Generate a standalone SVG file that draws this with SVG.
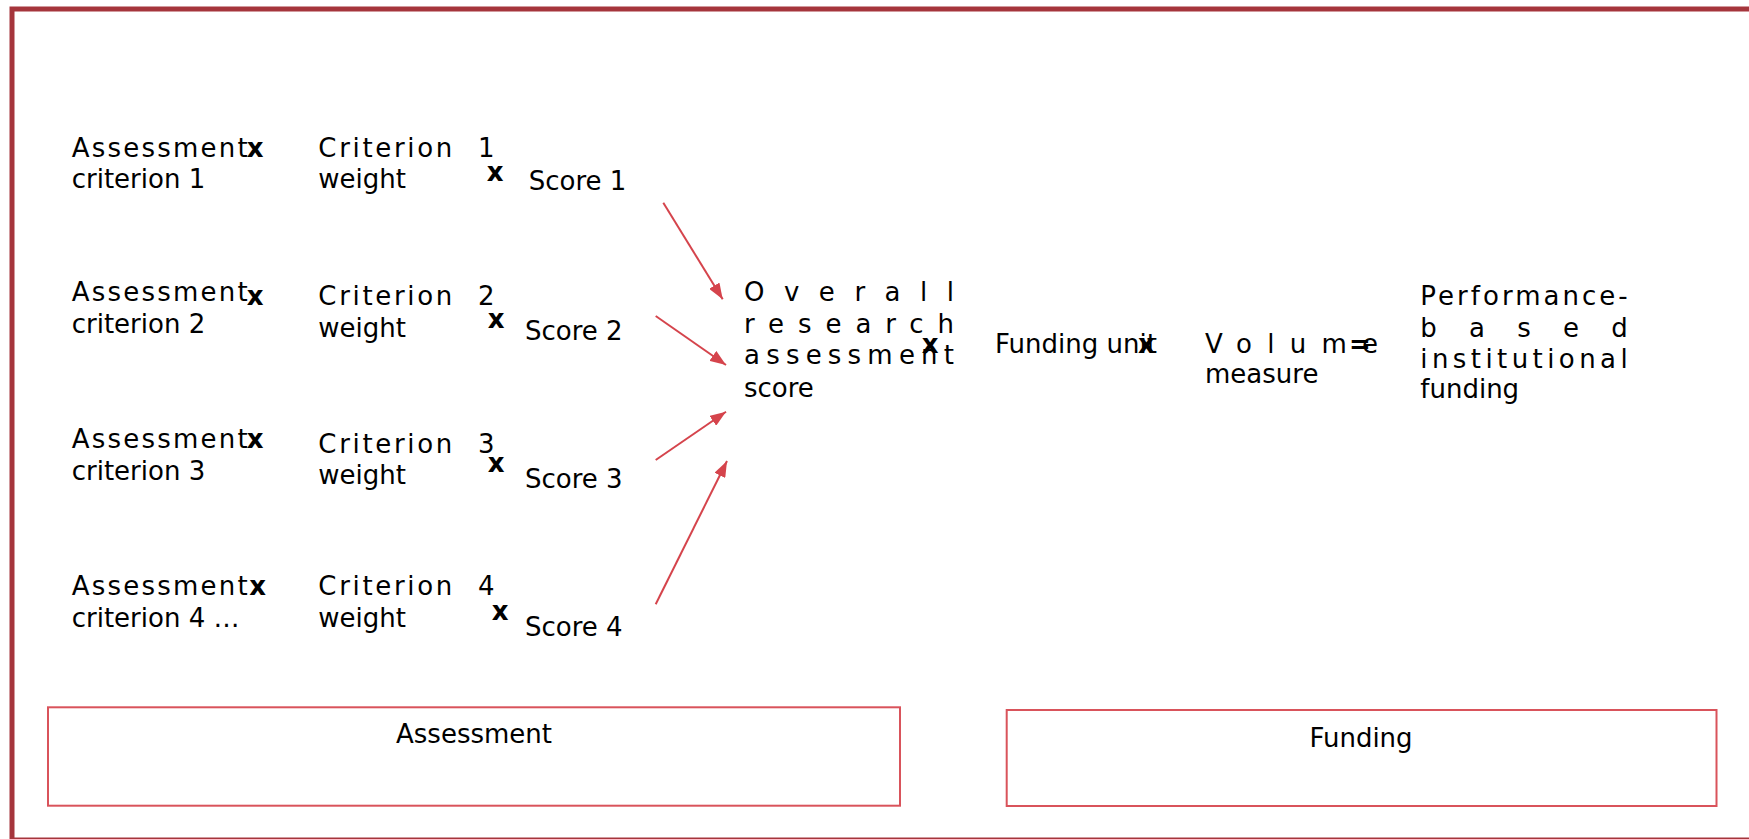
<svg xmlns="http://www.w3.org/2000/svg" width="1749" height="839" viewBox="0 0 1749 839">
<defs>
<style>
text{font-family:"DejaVu Sans",Verdana,sans-serif;font-size:26px;fill:#000}
.b{font-weight:bold}
.conn{stroke:#d5444c;stroke-width:2;fill:none}
.box{fill:none;stroke:#d9535b;stroke-width:2}
</style>
<marker id="ah" markerUnits="userSpaceOnUse" markerWidth="16" markerHeight="12" refX="16" refY="6" orient="auto">
<path d="M0,0 L16,6 L0,12 z" fill="#d5444c"/>
</marker>
</defs>
<rect width="1749" height="839" fill="#fff"/>
<rect id="frame" x="12" y="9" width="1800" height="831" fill="none" stroke="#a5353c" stroke-width="5"/>

<g id="row1">
<text x="71.7" y="157.3" textLength="176" lengthAdjust="spacing">Assessment</text>
<text x="71.7" y="188.3">criterion 1</text>
<text class="b" x="246.7" y="157.3">x</text>
<text x="318.3" y="157.3" textLength="134" lengthAdjust="spacing">Criterion</text>
<text x="478" y="157.3">1</text>
<text x="318.3" y="188.3">weight</text>
<text class="b" x="486.7" y="181">x</text>
<text x="528.7" y="190">Score 1</text>
</g>
<g id="row2">
<text x="71.7" y="301" textLength="176" lengthAdjust="spacing">Assessment</text>
<text x="71.7" y="332.7">criterion 2</text>
<text class="b" x="246.7" y="305">x</text>
<text x="318.3" y="305" textLength="134" lengthAdjust="spacing">Criterion</text>
<text x="478" y="305">2</text>
<text x="318.3" y="336.7">weight</text>
<text class="b" x="487.7" y="328.3">x</text>
<text x="525" y="340">Score 2</text>
</g>
<g id="row3">
<text x="71.7" y="448.3" textLength="176" lengthAdjust="spacing">Assessment</text>
<text x="71.7" y="480">criterion 3</text>
<text class="b" x="246.7" y="448.3">x</text>
<text x="318.3" y="452.7" textLength="134" lengthAdjust="spacing">Criterion</text>
<text x="478" y="452.7">3</text>
<text x="318.3" y="484">weight</text>
<text class="b" x="487.7" y="472.3">x</text>
<text x="525" y="488.3">Score 3</text>
</g>
<g id="row4">
<text x="71.7" y="595" textLength="176" lengthAdjust="spacing">Assessment</text>
<text x="71.7" y="626.7">criterion 4 …</text>
<text class="b" x="249.3" y="595">x</text>
<text x="318.3" y="595" textLength="134" lengthAdjust="spacing">Criterion</text>
<text x="478" y="595">4</text>
<text x="318.3" y="626.7">weight</text>
<text class="b" x="491.7" y="620">x</text>
<text x="525" y="635.7">Score 4</text>
</g>

<g id="overall">
<text x="744" y="300.7" textLength="210" lengthAdjust="spacing">Overall</text>
<text x="744" y="332.7" textLength="210" lengthAdjust="spacing">research</text>
<text x="744" y="364.3" textLength="210" lengthAdjust="spacing">assessment</text>
<text x="744" y="396.7">score</text>
<text class="b" x="921.7" y="352.7">x</text>
</g>
<g id="funding-unit">
<text x="995" y="352.7">Funding unit</text>
<text class="b" x="1138" y="352.7">x</text>
</g>
<g id="volume">
<text x="1205" y="352.7" textLength="173" lengthAdjust="spacing">Volume</text>
<text x="1205" y="382.7">measure</text>
<text class="b" x="1349" y="352.7">=</text>
</g>
<g id="result">
<text x="1420.3" y="305" textLength="207.4" lengthAdjust="spacing">Performance-</text>
<text x="1420.3" y="336.7" textLength="207.4" lengthAdjust="spacing">based</text>
<text x="1420.3" y="368.3" textLength="207.4" lengthAdjust="spacing">institutional</text>
<text x="1420.3" y="398.3">funding</text>
</g>

<g id="connectors">
<line class="conn" x1="663.3" y1="202.7" x2="722.7" y2="299.3" marker-end="url(#ah)"/>
<line class="conn" x1="655.7" y1="316" x2="726" y2="365" marker-end="url(#ah)"/>
<line class="conn" x1="655.7" y1="460" x2="726" y2="411.7" marker-end="url(#ah)"/>
<line class="conn" x1="655.7" y1="604.3" x2="727" y2="461" marker-end="url(#ah)"/>
</g>

<g id="assessment-box">
<rect class="box" x="48" y="707.3" width="852" height="98.4"/>
<text x="474" y="743.3" text-anchor="middle">Assessment</text>
</g>
<g id="funding-box">
<rect class="box" x="1006.7" y="710" width="709.8" height="96"/>
<text x="1361" y="746.7" text-anchor="middle">Funding</text>
</g>
</svg>
